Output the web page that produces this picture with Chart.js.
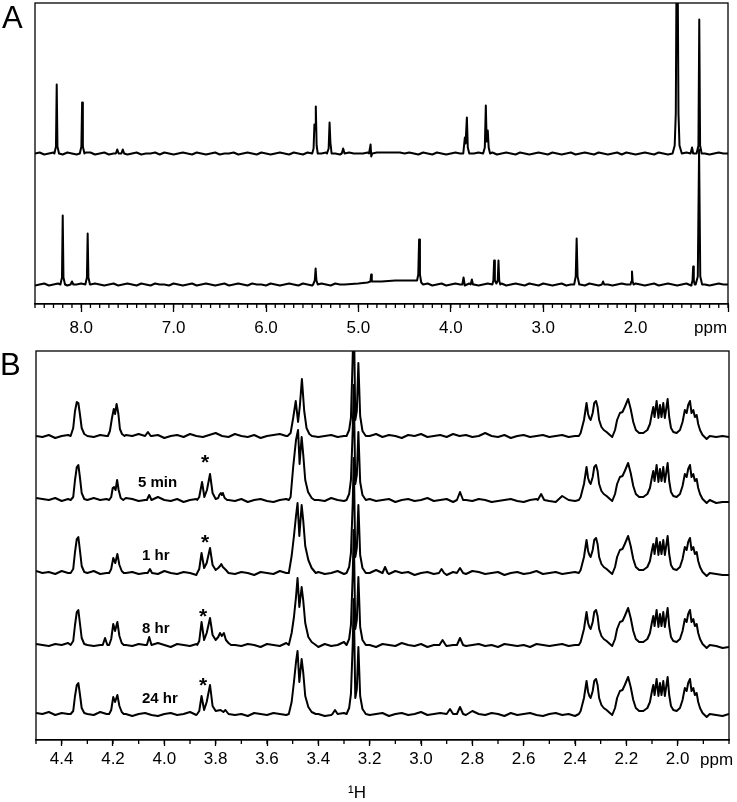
<!DOCTYPE html>
<html>
<head>
<meta charset="utf-8">
<script src="https://cdn.jsdelivr.net/npm/chart.js@4.4.1/dist/chart.umd.min.js"></script>
<style>
  body { margin: 0; background: #fff; width: 737px; height: 802px; position: relative; overflow: hidden;
         font-family: "Liberation Sans", Arial, sans-serif; }
  canvas { position: absolute; left: 0; }
  .t { position: absolute; line-height: 1; color: #000; white-space: nowrap; }
  .lab { font-size: 15px; font-weight: bold; }
  .star { font-size: 21px; font-weight: bold; }
</style>
</head>
<body>
<canvas id="chartA" width="737" height="345" style="top:0"></canvas>
<canvas id="chartB" width="737" height="462" style="top:340px"></canvas>

<div class="t" style="left:2px;top:2px;font-size:31px">A</div>
<div class="t" style="left:0px;top:349px;font-size:31px">B</div>
<div class="t" style="left:694px;top:319px;font-size:17px">ppm</div>
<div class="t" style="left:700px;top:751px;font-size:17px">ppm</div>
<div class="t" style="left:348px;top:784px;font-size:17px">¹H</div>
<div class="t lab" style="left:138px;top:474px">5 min</div>
<div class="t lab" style="left:142px;top:547px">1 hr</div>
<div class="t lab" style="left:142px;top:620px">8 hr</div>
<div class="t lab" style="left:142px;top:690px">24 hr</div>
<div class="t star" style="left:201px;top:451px">*</div>
<div class="t star" style="left:201px;top:531px">*</div>
<div class="t star" style="left:199px;top:605px">*</div>
<div class="t star" style="left:199px;top:674px">*</div>

<script>
// ---------- panel A : two full spectra, ppm 8.5 -> 1.0 ----------
const majorA = [8.0, 7.0, 6.0, 5.0, 4.0, 3.0, 2.0, 1.0];
const baseA = [150.5, 19.5];   // baseline of each trace (intensity units)

// peaks as [ppm, height above baseline]
const peaksA1 = [
  [[8.29,0],[8.273,7],[8.265,69],[8.257,7],[8.24,0]],
  [[8.015,0],[7.998,7],[7.99,51],[7.982,7],[7.965,0]],
  [[7.625,0],[7.61,4],[7.595,0]],
  [[7.565,0],[7.55,4],[7.535,0]],
  [[5.50,0],[5.485,5],[5.476,29],[5.469,24],[5.461,47],[5.452,8],[5.44,0]],
  [[5.34,0],[5.322,5],[5.312,31],[5.303,11],[5.29,0]],
  [[5.18,0],[5.165,5],[5.15,0]],
  [[4.885,0],[4.868,9],[4.861,-3],[4.85,0]],
  [[3.865,0],[3.848,16],[3.84,10],[3.826,36],[3.816,6],[3.80,0]],
  [[3.65,0],[3.632,6],[3.621,48],[3.612,12],[3.60,23],[3.59,6],[3.575,0]],
  [[1.60,0],[1.577,8],[1.565,40],[1.556,200],[1.546,200],[1.536,40],[1.525,8],[1.50,0]],
  [[1.405,0],[1.389,6],[1.377,0]],
  [[1.34,0],[1.32,8],[1.311,134],[1.302,8],[1.285,0]]
];
const peaksA2 = [
  [[8.225,0],[8.208,7],[8.20,69],[8.192,7],[8.175,0]],
  [[8.115,0],[8.10,3],[8.085,0]],
  [[7.955,0],[7.938,7],[7.93,51],[7.922,7],[7.905,0]],
  [[5.49,0],[5.472,4],[5.463,16],[5.454,4],[5.44,0]],
  [[5.15,0],[5.0,1],[4.9,2],[4.87,3],[4.862,10],[4.855,3],[4.75,3],[4.6,4],[4.45,4],[4.365,4],
   [4.352,10],[4.343,45],[4.334,10],[4.32,2],[4.30,0]],
  [[3.875,0],[3.862,7],[3.85,0]],
  [[3.785,0],[3.772,5],[3.76,0]],
  [[3.55,0],[3.539,4],[3.531,24],[3.523,4],[3.507,1],[3.492,4],[3.484,24],[3.476,4],[3.465,0]],
  [[2.665,0],[2.648,8],[2.638,46],[2.628,8],[2.61,0]],
  [[2.365,0],[2.352,3],[2.34,0]],
  [[2.055,0],[2.046,3],[2.039,13],[2.032,3],[2.022,0]],
  [[1.395,0],[1.384,4],[1.377,18],[1.37,4],[1.36,0]],
  [[1.35,0],[1.327,8],[1.313,135],[1.300,8],[1.28,0]]
];
// baseline noise, one value every 0.05 ppm from 8.5
const noiseA1 = [0,1,-1,0,1,0,-1,1,0,-1, 0,1,1,-1,0,1,-1,0,2,0, -1,0,1,-1,0,0,1,-1,1,0,
  -1,0,1,0,-1,1,0,-1,0,1, -1,0,0,1,-1,0,1,0,-1,1, 0,-1,0,1,0,-1,1,0,-1,1, 0,-1,0,1,1,0,-1,0,1,0,
  0,0,1,1,1,1,1,1,1,1, 0,1,0,-1,1,0,-1,1,0,-1, 0,1,0,-1,1,0,1,-1,0,1, -1,0,1,0,-1,1,0,-1,0,1,
  0,-1,1,0,-1,0,1,-1,0,1, 0,-1,1,0,-1,0,1,-1,1,0, -1,0,1,0,-1,1,0,-1,0,1, 0,1,-1,0,1,0,-1,0,1,0, 0];
const noiseA2 = [-1,0,1,-1,0,1,0,-1,1,0, 1,-1,0,1,0,-1,0,1,-1,0, 1,0,-1,1,0,-1,1,0,0,-1,
  1,0,-1,0,1,-1,0,1,0,-1, 0,1,-1,0,1,0,-1,1,0,0, -1,1,0,-1,0,1,0,-1,1,0, -1,0,1,0,-1,1,0,-1,0,1,
  1,1,2,2,2,2,3,3,3,4, 4,4,4,4,0,1,-1,0,1,-1, 0,1,0,-1,1,0,-1,0,1,-1, 0,1,-1,0,1,0,-1,1,0,-1,
  1,0,-1,0,1,-1,0,1,0,-1, 1,0,-1,1,0,-1,0,1,0,-1, 1,0,-1,0,1,-1,0,1,0,-1, 0,1,-1,0,1,0,-1,0,1,0, 0];

// ---------- panel B : five traces, ppm 4.5 -> 1.8 ----------
const majorB = [4.4, 4.2, 4.0, 3.8, 3.6, 3.4, 3.2, 3.0, 2.8, 2.6, 2.4, 2.2, 2.0];
const baseB = [304, 240, 167, 95, 26];   // reference, 5 min, 1 hr, 8 hr, 24 hr

// 2.38 - 1.88 ppm multiplets, same in every trace
const multipletB = [[2.385,0],[2.378,3],[2.365,16],[2.358,28],[2.355,33],[2.349,22],[2.344,18],[2.339,16],
  [2.331,23],[2.325,33],[2.318,35],[2.312,29],[2.306,16],[2.297,9],[2.288,6],[2.277,4],[2.264,1],[2.255,-1],
  [2.244,6],[2.236,16],[2.225,23],[2.215,24],[2.206,29],[2.193,37],[2.183,27],[2.173,14],[2.163,6],[2.150,3],
  [2.134,3],[2.118,6],[2.108,12],[2.100,23],[2.095,29],[2.090,19],[2.082,35],[2.075,18],[2.069,31],[2.063,19],
  [2.056,33],[2.050,18],[2.039,37],[2.033,19],[2.026,8],[2.017,4],[2.004,3],[1.991,6],[1.981,14],[1.972,26],
  [1.965,23],[1.959,31],[1.952,35],[1.946,23],[1.939,26],[1.933,19],[1.926,21],[1.920,12],[1.913,6],[1.903,1],
  [1.887,-3],[1.875,0]];

const peaksRef = [
  [[4.365,0],[4.355,8],[4.348,25],[4.341,34],[4.335,33],[4.329,22],[4.322,8],[4.312,2],[4.30,0]],
  [[4.22,0],[4.212,5],[4.204,18],[4.197,27],[4.192,22],[4.186,32],[4.179,22],[4.173,7],[4.165,2],[4.155,0]],
  [[4.075,0],[4.064,4],[4.053,0]],
  [[3.52,0],[3.508,3],[3.498,18],[3.488,35],[3.479,14],[3.472,30],[3.464,57],[3.455,25],[3.446,8],[3.435,2],[3.425,0]],
  [[3.29,0],[3.28,6],[3.273,18],[3.266,80],[3.262,130],[3.256,16],[3.25,25],[3.244,73],[3.237,20],[3.228,5],[3.215,0]]
];
const peaks5min = [
  [[4.365,0],[4.355,3],[4.348,20],[4.341,33],[4.335,35],[4.329,23],[4.322,7],[4.312,1],[4.30,0]],
  [[4.215,0],[4.207,3],[4.201,12],[4.196,13],[4.19,10],[4.184,20],[4.178,10],[4.17,2],[4.16,0]],
  [[4.068,0],[4.059,5],[4.05,0]],
  [[3.872,0],[3.864,3],[3.853,18],[3.844,3],[3.834,10],[3.822,26],[3.812,7],[3.80,1],[3.79,2],[3.786,5],
   [3.780,7],[3.776,5],[3.772,7],[3.765,2],[3.755,0]],
  [[3.515,0],[3.508,3],[3.498,33],[3.487,60],[3.479,70],[3.473,36],[3.465,63],[3.459,46],[3.451,20],[3.44,8],[3.426,2],[3.415,0]],
  [[3.29,0],[3.28,6],[3.273,20],[3.266,70],[3.262,115],[3.256,16],[3.25,25],[3.244,68],[3.237,18],[3.228,5],[3.215,0]],
  [[2.86,0],[2.848,8],[2.836,0]],
  [[2.545,0],[2.532,6],[2.52,0]]
];
const peaks1hr = [
  [[4.365,0],[4.355,4],[4.348,21],[4.341,34],[4.335,36],[4.329,23],[4.322,7],[4.312,1],[4.30,0]],
  [[4.215,0],[4.207,4],[4.199,15],[4.191,10],[4.183,19],[4.175,8],[4.166,2],[4.158,0]],
  [[4.065,0],[4.056,4],[4.048,0]],
  [[3.872,0],[3.864,4],[3.855,20],[3.845,5],[3.835,10],[3.822,25],[3.812,8],[3.80,3],[3.79,5],[3.783,7],
   [3.778,9],[3.772,6],[3.76,3],[3.75,0]],
  [[3.515,0],[3.504,17],[3.495,37],[3.487,57],[3.481,70],[3.474,37],[3.465,68],[3.459,53],[3.451,27],[3.439,13],[3.426,5],[3.41,0]],
  [[3.29,0],[3.28,6],[3.273,20],[3.266,70],[3.262,115],[3.256,16],[3.25,25],[3.244,68],[3.237,18],[3.228,5],[3.215,0]],
  [[3.15,0],[3.14,6],[3.13,0]],
  [[2.93,0],[2.92,4],[2.91,0]],
  [[2.86,0],[2.848,5],[2.836,0]]
];
const peaks8hr = [
  [[4.365,0],[4.355,4],[4.348,20],[4.341,33],[4.335,35],[4.329,22],[4.322,7],[4.312,1],[4.30,0]],
  [[4.24,0],[4.231,7],[4.222,0]],
  [[4.215,0],[4.207,6],[4.199,21],[4.192,14],[4.183,23],[4.175,9],[4.166,2],[4.158,0]],
  [[4.068,0],[4.059,8],[4.05,0]],
  [[3.872,0],[3.864,4],[3.855,23],[3.845,5],[3.835,12],[3.822,27],[3.812,10],[3.80,5],[3.79,8],[3.783,12],
   [3.776,9],[3.768,12],[3.76,5],[3.75,2],[3.74,0]],
  [[3.515,0],[3.504,12],[3.495,28],[3.487,48],[3.481,67],[3.474,38],[3.465,58],[3.459,45],[3.451,22],[3.439,8],[3.426,3],[3.41,0]],
  [[3.29,0],[3.28,6],[3.273,20],[3.266,70],[3.262,115],[3.256,16],[3.25,25],[3.244,68],[3.237,18],[3.228,5],[3.215,0]],
  [[2.928,0],[2.916,5],[2.904,0]],
  [[2.86,0],[2.848,7],[2.836,0]]
];
const peaks24hr = [
  [[4.365,0],[4.355,3],[4.348,18],[4.341,29],[4.335,31],[4.329,20],[4.322,6],[4.312,1],[4.30,0]],
  [[4.215,0],[4.207,4],[4.199,17],[4.192,12],[4.183,19],[4.175,8],[4.166,2],[4.158,0]],
  [[3.872,0],[3.864,3],[3.855,18],[3.845,4],[3.835,12],[3.822,29],[3.812,8],[3.80,3],[3.781,4],[3.77,2],[3.762,4],[3.75,0]],
  [[3.515,0],[3.504,12],[3.495,32],[3.487,52],[3.481,63],[3.474,32],[3.465,55],[3.459,42],[3.451,18],[3.439,7],[3.426,2],[3.41,0]],
  [[3.345,0],[3.335,4],[3.325,0]],
  [[3.29,0],[3.28,6],[3.273,20],[3.266,70],[3.262,115],[3.256,16],[3.25,25],[3.244,67],[3.237,18],[3.228,5],[3.215,0]],
  [[2.9,0],[2.887,5],[2.875,0]],
  [[2.86,0],[2.848,7],[2.836,0]]
];
// baseline noise, one value every 0.025 ppm from 4.5
const noiseRef = [0,-1,1,-2,0,1,-1,0,2,-1, 1,0,-2,-1,1,0,2,-1,0,1, -2,0,1,-1,2,0,-1,1,3,0,
  -1,2,0,-1,1,-2,0,1,2,0, -1,0,1,-2,-1,0,1,-1,0,2, 1,-1,0,2,-1,1,0,-2,1,0, 2,-1,0,1,-1,2,0,1,-1,0,
  3,0,-1,1,-2,0,1,-1,0,1, -1,0,1,-1,0,2,0,1,-1,0, 1,0,-1,1,0,-1,1,0,-2,0, -1,1,0,-2,-1,0,-1,0,-1];
const noise5min = [2,1,0,2,-1,1,0,1,-1,2, 0,1,-1,0,2,1,-1,0,1,3, 0,-1,1,-2,0,1,-1,0,-2,1,
  0,-1,1,-2,0,1,-1,-2,0,1, -1,0,-2,1,0,-1,2,0,-1,1, -2,0,1,-1,0,1,-2,0,1,-1, 0,2,-1,0,1,-2,3,0,-1,1,
  0,-2,-1,0,1,-1,-2,0,1,0, -1,-2,4,0,-1,0,1,-1,-2,0, -1,0,-2,1,0,-1,-2,0,-1,-3, 0,-2,-1,-3,-2,-1,-3,-2,-2];
const noise1hr = [2,0,1,-1,2,0,-1,1,0,2, -1,0,1,-2,0,1,-1,0,1,-1, 2,0,-1,1,0,-2,1,-1,0,2,
  0,-1,1,0,-2,1,0,-1,2,0, -1,1,-2,0,1,-1,0,2,-1,0, 1,-2,0,3,1,-1,2,0,1,-2, 0,1,-1,0,-2,1,0,-1,2,1,
  -1,0,1,-2,0,1,-1,0,2,-1, 0,1,-1,0,1,-2,0,1,-1,0, 1,-1,0,1,-2,0,-1,1,0,-2, -1,0,-2,-1,0,-2,-1,-2,-2];
const noise8hr = [1,0,-1,1,0,2,-1,0,1,-1, 0,2,-1,1,0,-1,1,0,-1,2, 0,-2,1,0,-1,1,-2,0,1,-1,
  2,0,-1,1,0,-2,1,0,-1,2, 0,-1,1,0,-2,1,-1,0,3,0, -1,1,0,-2,1,0,-1,2,0,-1, 1,-2,0,1,-1,0,2,-1,0,1,
  -1,0,-2,1,0,-1,0,-2,1,0, -1,0,1,-1,0,-2,1,0,-1,0, -2,1,0,-1,0,-2,-1,0,1,-1, -2,-1,0,-2,-1,-2,-1,-3,-2];
const noise24hr = [1,0,2,-1,1,0,-1,1,0,-1, 2,0,-1,1,0,-2,0,1,-1,-2, 0,1,-1,0,2,-1,0,1,-2,0,
  1,-1,0,-2,1,0,-1,1,0,-1, 2,0,-1,1,0,-2,-1,0,1,-1, 0,2,-1,0,1,-2,0,1,-1,0, 2,-1,0,1,-2,1,0,-1,3,0,
  -1,1,0,-2,1,-1,0,1,-1,-2, 0,1,-1,0,-2,1,0,-1,0,2, 1,-1,0,1,-1,0,2,-1,0,1, -1,-2,0,-1,-2,0,-1,-2,0];

// merge noise grid and peak points into one sorted trace
function buildTrace(segments, noise, start, step, base) {
  const spans = segments.map(s => [Math.min(...s.map(p => p[0])), Math.max(...s.map(p => p[0]))]);
  const pts = [];
  noise.forEach((v, i) => {
    const x = start - i * step;
    if (!spans.some(([lo, hi]) => x >= lo && x <= hi)) pts.push({ x: x, y: base + v });
  });
  segments.forEach(s => s.forEach(([x, h]) => pts.push({ x: x, y: base + h })));
  pts.sort((a, b) => b.x - a.x);
  return pts;
}

// box round the plot area plus the short minor ticks
const frame = {
  id: 'frame',
  afterDraw(chart, args, opts) {
    const { ctx, chartArea: a } = chart;
    const xs = chart.scales.x;
    ctx.save();
    ctx.strokeStyle = '#000';
    ctx.lineWidth = 1.3;
    ctx.strokeRect(a.left, a.top, a.right - a.left, a.bottom - a.top);
    for (let v = opts.from; v >= opts.to - 1e-6; v -= opts.step) {
      const px = xs.getPixelForValue(v);
      ctx.beginPath();
      ctx.moveTo(px, a.bottom);
      ctx.lineTo(px, a.bottom + opts.len);
      ctx.stroke();
    }
    ctx.restore();
  }
};

function lineSet(data) {
  return { data: data, borderColor: '#000', borderWidth: 2, pointRadius: 0, tension: 0,
           borderJoinStyle: 'round', fill: false };
}

function makeOptions(xmin, xmax, ymax, major, pad, axisH, tickLen, labelPad, minor, skipLabel) {
  return {
    responsive: false,
    animation: false,
    layout: { padding: pad },
    plugins: { legend: { display: false }, tooltip: { enabled: false }, frame: minor },
    scales: {
      x: {
        type: 'linear', reverse: true, min: xmin, max: xmax,
        afterFit: s => { s.height = axisH; },
        afterBuildTicks: s => { s.ticks = major.map(v => ({ value: v })); },
        ticks: {
          callback: v => (v === skipLabel ? '' : v.toFixed(1)),
          font: { family: 'Liberation Sans', size: 17 }, color: '#000',
          padding: labelPad, maxRotation: 0, autoSkip: false
        },
        grid: { drawOnChartArea: false, tickLength: tickLen, tickColor: '#000', tickWidth: 1.3 },
        border: { color: '#000', width: 1.3 }
      },
      y: { display: false, min: 0, max: ymax }
    }
  };
}

new Chart(document.getElementById('chartA'), {
  type: 'line',
  data: { datasets: [
    lineSet(buildTrace(peaksA1, noiseA1, 8.5, 0.05, baseA[0])),
    lineSet(buildTrace(peaksA2, noiseA2, 8.5, 0.05, baseA[1]))
  ] },
  options: makeOptions(1.0, 8.5, 301, majorA, { left: 35, right: 9, top: 3, bottom: 0 }, 41, 8, 6,
    { from: 8.5, to: 1.0, step: 0.1, len: 4 }, 1.0),
  plugins: [frame]
});

new Chart(document.getElementById('chartB'), {
  type: 'line',
  data: { datasets: [
    lineSet(buildTrace([...peaksRef, multipletB], noiseRef, 4.5, 0.025, baseB[0])),
    lineSet(buildTrace([...peaks5min, multipletB], noise5min, 4.5, 0.025, baseB[1])),
    lineSet(buildTrace([...peaks1hr, multipletB], noise1hr, 4.5, 0.025, baseB[2])),
    lineSet(buildTrace([...peaks8hr, multipletB], noise8hr, 4.5, 0.025, baseB[3])),
    lineSet(buildTrace([...peaks24hr, multipletB], noise24hr, 4.5, 0.025, baseB[4]))
  ] },
  options: makeOptions(1.8, 4.5, 389, majorB, { left: 36, right: 8, top: 11, bottom: 0 }, 62, 6, 3,
    { from: 4.5, to: 1.8, step: 0.1, len: 4 }, null),
  plugins: [frame]
});
</script>
</body>
</html>
